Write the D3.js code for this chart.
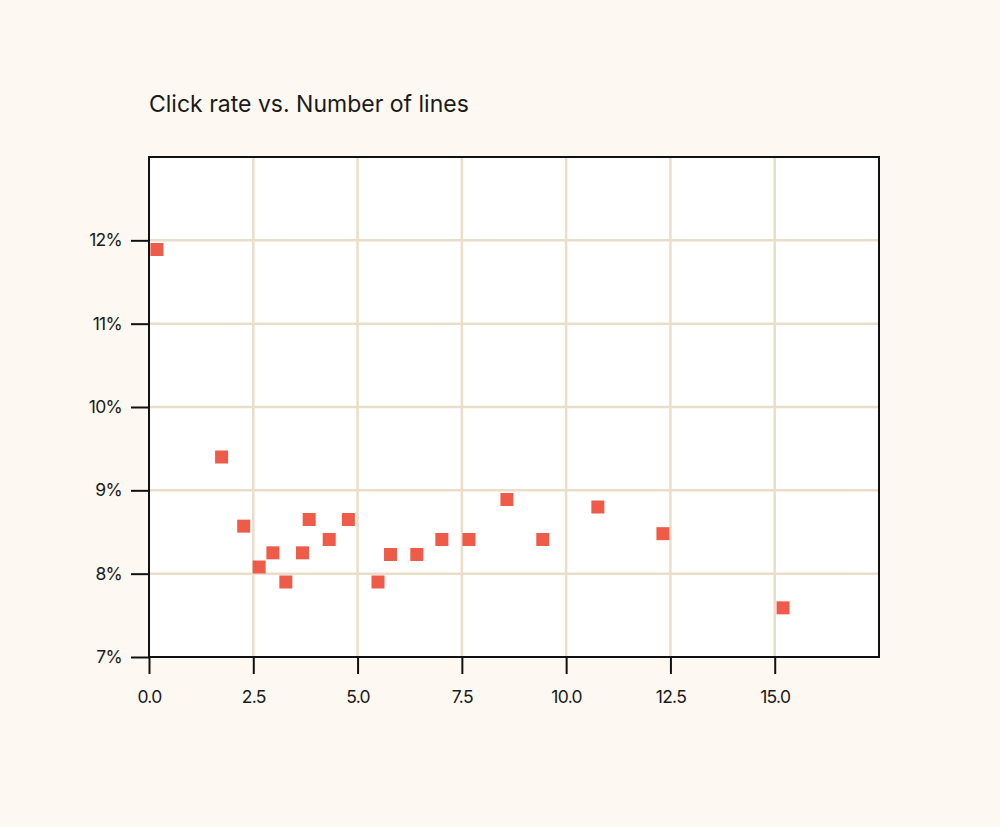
<!DOCTYPE html>
<html>
<head>
<meta charset="utf-8">
<script src="https://cdn.jsdelivr.net/npm/d3@7"></script>
<style>
  html, body { margin: 0; padding: 0; background: #fdf8f1; }
  svg { display: block; }
  text { font-family: Inter, "Liberation Sans", sans-serif; fill: #1a1a1a; }
</style>
</head>
<body>
<svg id="chart"></svg>
<script>
const title = "Click rate vs. Number of lines";

// number of lines
const lines = [0.19, 1.74, 2.27, 2.64, 2.97, 3.28, 3.68, 3.84, 4.32, 4.78,
               5.49, 5.79, 6.42, 7.02, 7.67, 8.58, 9.44, 10.76, 12.32, 15.20];
// click rate in %
const clickRate = [11.89, 9.40, 8.57, 8.08, 8.25, 7.90, 8.25, 8.65, 8.41, 8.65,
                   7.90, 8.23, 8.23, 8.41, 8.41, 8.89, 8.41, 8.80, 8.48, 7.59];

const xTicks = [0, 2.5, 5, 7.5, 10, 12.5, 15];
const yTicks = [7, 8, 9, 10, 11, 12];

const width = 1000, height = 827;
const margin = {top: 157, right: 121, bottom: 170, left: 149};

const data = lines.map((d, i) => ({x: d, y: clickRate[i]}));

const svg = d3.select("#chart")
    .attr("width", width)
    .attr("height", height);

svg.append("rect")
    .attr("width", width).attr("height", height)
    .attr("fill", "#fdf8f1");

const x = d3.scaleLinear()
    .domain([0, 17.5])
    .range([margin.left, width - margin.right]);

const y = d3.scaleLinear()
    .domain([7, 13])
    .range([height - margin.bottom, margin.top]);

// plot background
svg.append("rect")
    .attr("x", x(0)).attr("y", y(13))
    .attr("width", x(17.5) - x(0))
    .attr("height", y(7) - y(13))
    .attr("fill", "#ffffff");

// grid
svg.append("g")
    .selectAll("line")
    .data(xTicks.filter(d => d > 0))
    .join("line")
    .attr("x1", d => x(d)).attr("x2", d => x(d))
    .attr("y1", y(13)).attr("y2", y(7))
    .attr("stroke", "#ebdec9")
    .attr("stroke-width", 2.5);

svg.append("g")
    .selectAll("line")
    .data(yTicks.filter(d => d > 7))
    .join("line")
    .attr("x1", x(0)).attr("x2", x(17.5))
    .attr("y1", d => y(d)).attr("y2", d => y(d))
    .attr("stroke", "#ebdec9")
    .attr("stroke-width", 2.5);

// points
const size = 13;
svg.append("g")
    .selectAll("rect")
    .data(data)
    .join("rect")
    .attr("x", d => x(d.x) - size / 2)
    .attr("y", d => y(d.y) - size / 2)
    .attr("width", size)
    .attr("height", size)
    .attr("fill", "#ef5b49");

// frame
svg.append("rect")
    .attr("x", x(0)).attr("y", y(13))
    .attr("width", x(17.5) - x(0))
    .attr("height", y(7) - y(13))
    .attr("fill", "none")
    .attr("stroke", "#111")
    .attr("stroke-width", 2);

// axes
const xAxis = svg.append("g")
    .attr("transform", `translate(0, ${y(7)})`)
    .call(d3.axisBottom(x).tickValues(xTicks).tickFormat(d3.format(".1f"))
        .tickSize(17).tickPadding(17));

const yAxis = svg.append("g")
    .attr("transform", `translate(${x(0)}, 0)`)
    .call(d3.axisLeft(y).tickValues(yTicks).tickFormat(d => d + "%")
        .tickSize(18).tickPadding(9));

[xAxis, yAxis].forEach(g => {
    g.select(".domain").remove();
    g.selectAll(".tick line").attr("stroke", "#111").attr("stroke-width", 2);
    g.selectAll(".tick text")
        .attr("font-family", "Inter, 'Liberation Sans', sans-serif")
        .attr("font-size", 17.5)
        .attr("letter-spacing", -0.7)
        .attr("fill", "#1a1a1a");
});

// title
svg.append("text")
    .attr("x", 149)
    .attr("y", 112)
    .attr("font-size", 23)
    .text(title);
</script>
</body>
</html>
